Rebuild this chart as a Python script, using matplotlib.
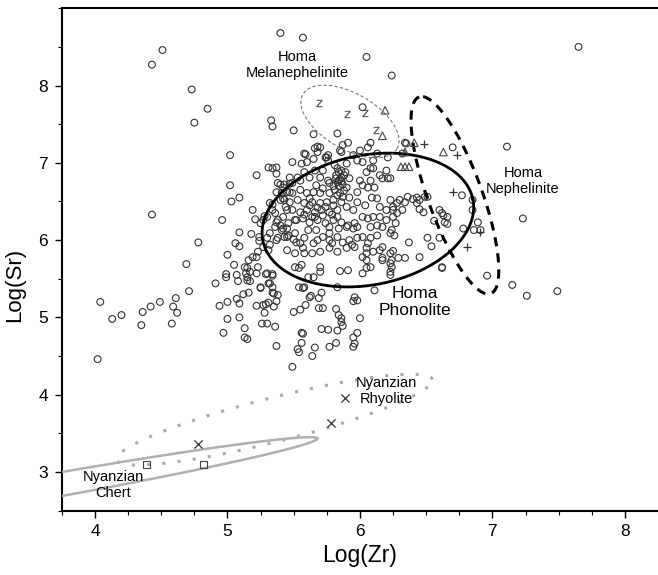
import numpy as np
import matplotlib
matplotlib.use("Agg")
import matplotlib.pyplot as plt

plt.rcParams['font.family'] = ['Liberation Sans', 'DejaVu Sans']

# Homa phonolite samples, (Log Zr, Log Sr)
upper_pts = [
    (5.40, 8.68), (5.57, 8.62), (4.51, 8.46), (4.43, 8.27), (4.73, 7.95), (4.85, 7.70),
    (4.75, 7.52), (5.33, 7.55), (5.34, 7.47), (5.50, 7.42), (5.65, 7.37), (6.05, 8.37),
    (6.24, 8.13), (7.65, 8.50), (6.02, 7.72), (5.83, 7.38), (7.11, 7.21), (7.23, 6.28),
    (4.43, 6.33),
]
left_pts = [
    (5.02, 7.10), (5.22, 6.84), (5.02, 6.71), (5.09, 6.55), (5.03, 6.50), (4.96, 6.26),
    (5.19, 6.39), (5.09, 6.10), (4.78, 5.97), (5.06, 5.96), (5.09, 5.92), (5.00, 5.81),
    (4.69, 5.69), (5.05, 5.68), (4.99, 5.56), (4.91, 5.44), (5.31, 6.94), (5.37, 6.86),
    (5.49, 7.01), (5.59, 7.11), (5.66, 7.19), (5.68, 7.21), (5.56, 6.99), (5.60, 7.01),
    (5.65, 7.05), (5.74, 7.07), (5.76, 7.10), (5.43, 6.72), (5.47, 6.73), (5.49, 6.74),
    (5.55, 6.77), (5.41, 6.61), (5.43, 6.52), (5.44, 6.43), (5.47, 6.62), (5.34, 6.46),
    (5.36, 6.35), (5.30, 6.30), (5.38, 6.26), (5.27, 6.26), (5.36, 6.17), (5.41, 6.13),
    (5.32, 6.09), (5.30, 6.03), (5.45, 6.04), (5.50, 6.01), (5.37, 6.00), (5.24, 6.04),
    (5.27, 5.91), (5.23, 5.85), (5.31, 5.87), (5.32, 5.94), (5.16, 5.74), (5.22, 5.78),
    (5.13, 5.65), (5.17, 5.59), (5.07, 5.55), (5.15, 5.52), (5.23, 5.65), (5.30, 5.57),
    (5.34, 5.54), (5.51, 5.65), (5.56, 5.68), (5.65, 5.52), (5.70, 5.59),
]
lower_left_pts = [
    (4.04, 5.20), (4.13, 4.98), (4.20, 5.03), (4.35, 4.90), (4.36, 5.07), (4.42, 5.14),
    (4.49, 5.20), (4.02, 4.46), (4.58, 4.92), (4.59, 5.14), (4.61, 5.25), (4.62, 5.06),
    (4.71, 5.34), (4.94, 5.15), (5.00, 5.20), (5.00, 4.98), (4.97, 4.80), (5.07, 5.24),
    (5.09, 5.18), (5.09, 5.00), (5.12, 5.30), (5.16, 5.32), (5.13, 4.86), (5.13, 4.74),
    (5.15, 4.72), (5.22, 5.15), (5.25, 5.39), (5.27, 5.16), (5.29, 5.17), (5.28, 5.06),
    (5.26, 4.92), (5.30, 4.92), (5.32, 5.44), (5.34, 5.39), (5.34, 5.32), (5.31, 5.19),
    (5.35, 5.14), (5.37, 5.21), (5.38, 5.29), (5.36, 4.88), (5.37, 4.63), (5.49, 4.36),
    (5.50, 5.07), (5.55, 5.10), (5.59, 5.16), (5.62, 5.26), (5.71, 5.32), (5.69, 5.12),
    (5.72, 5.12), (5.56, 4.80), (5.53, 4.59), (5.54, 4.55), (5.56, 4.67), (5.66, 4.61),
    (5.64, 4.50), (5.71, 4.85), (5.76, 4.84), (5.54, 5.39), (5.58, 5.39), (5.18, 6.08),
    (4.99, 5.52), (5.08, 5.47), (5.14, 5.57), (5.15, 5.64), (5.15, 5.48), (5.17, 5.47),
    (5.22, 5.57), (5.19, 5.78), (5.24, 5.99), (5.29, 5.56), (5.34, 5.56), (5.31, 5.44),
    (5.25, 5.38), (5.35, 5.31),
]
lower_mid_pts = [
    (5.54, 5.64), (5.61, 5.52), (5.85, 5.60), (5.91, 5.61), (6.02, 5.57), (6.05, 5.64),
    (5.83, 5.39), (5.57, 5.38), (6.11, 5.35), (5.63, 5.28), (5.69, 5.25), (5.96, 5.26),
    (5.95, 5.21), (5.98, 5.22), (5.82, 5.11), (5.84, 5.03), (5.86, 4.99), (5.87, 4.89),
    (6.00, 4.99), (5.83, 4.83), (5.57, 4.79), (5.98, 4.80), (5.95, 4.74), (5.96, 4.66),
    (5.95, 4.62), (5.77, 4.62), (5.86, 4.94), (5.82, 4.67), (7.15, 5.42), (7.26, 5.28),
    (7.49, 5.34), (5.70, 5.65),
]
right_pts = [
    (6.35, 7.25), (6.96, 5.54), (6.77, 6.58), (6.51, 6.56), (6.37, 5.97), (6.45, 6.52),
    (6.43, 6.48), (6.48, 6.36), (6.36, 6.56), (6.62, 6.35), (6.64, 6.23), (6.66, 6.30),
    (6.85, 6.52), (6.85, 6.39), (6.89, 6.23), (6.78, 6.15), (6.86, 6.13), (6.91, 6.13),
    (6.51, 6.03), (6.60, 6.03), (6.45, 5.78), (6.62, 5.65), (6.23, 5.55), (6.23, 5.70),
    (6.17, 5.77), (6.29, 5.77), (6.34, 5.77), (6.70, 7.20), (6.34, 7.26), (6.28, 6.48),
    (6.34, 6.49), (6.25, 6.43), (6.32, 6.39), (6.45, 6.40), (6.28, 6.35), (6.60, 6.39),
    (6.63, 6.32), (6.56, 6.25), (6.66, 6.21), (6.27, 6.22), (6.24, 6.13), (6.26, 6.06),
    (6.54, 5.92), (6.25, 5.86), (6.24, 5.74), (6.62, 5.64), (6.24, 5.65), (6.43, 6.55),
    (6.49, 6.56), (6.40, 6.53),
]
core_pts = [
    (5.91, 7.26), (5.87, 7.23), (5.85, 7.16), (6.08, 7.26), (6.06, 7.20), (6.00, 7.16),
    (5.95, 7.10), (6.13, 7.12), (6.21, 7.07), (5.68, 7.14), (5.58, 7.12), (5.75, 7.07),
    (5.76, 7.03), (5.81, 6.97), (5.90, 6.99), (5.84, 6.88), (5.89, 6.88), (5.86, 6.81),
    (5.84, 6.77), (5.92, 6.80), (6.00, 6.77), (6.08, 6.93), (6.10, 6.93), (6.20, 6.90),
    (6.15, 6.84), (6.17, 6.80), (6.21, 6.80), (6.02, 7.01), (5.98, 7.03), (6.06, 6.68),
    (6.11, 6.68), (6.09, 6.55), (6.13, 6.54), (6.15, 6.43), (6.20, 6.39), (6.23, 6.52),
    (6.25, 6.39), (6.04, 6.45), (5.98, 6.49), (5.95, 6.39), (6.02, 6.30), (6.06, 6.28),
    (6.15, 6.30), (6.20, 6.26), (5.90, 6.68), (5.85, 6.61), (5.81, 6.65), (5.77, 6.61),
    (5.72, 6.67), (5.70, 6.61), (5.65, 6.62), (5.60, 6.61), (5.55, 6.65), (5.49, 6.61),
    (5.45, 6.62), (5.42, 6.54), (5.47, 6.49), (5.53, 6.52), (5.58, 6.48), (5.64, 6.49),
    (5.70, 6.48), (5.75, 6.49), (5.80, 6.45), (5.86, 6.49), (5.90, 6.43), (5.83, 6.39),
    (5.77, 6.36), (5.71, 6.39), (5.66, 6.36), (5.60, 6.39), (5.55, 6.36), (5.49, 6.39),
    (5.45, 6.39), (5.51, 6.26), (5.57, 6.28), (5.62, 6.23), (5.68, 6.26), (5.74, 6.22),
    (5.80, 6.26), (5.86, 6.23), (5.91, 6.19), (5.96, 6.22), (6.13, 6.19), (6.17, 6.17),
    (5.53, 6.81), (5.62, 6.81), (5.70, 6.81), (5.76, 6.77), (5.72, 6.90), (5.66, 6.90),
    (5.58, 6.88), (5.47, 6.81), (5.38, 6.74), (5.42, 6.68), (5.37, 6.62), (5.40, 6.52),
    (5.32, 6.48), (5.42, 6.30), (5.46, 6.22), (5.42, 6.15), (5.38, 6.03), (5.46, 6.06),
    (5.51, 6.09), (5.52, 5.97), (5.58, 6.03), (5.65, 5.96), (5.68, 6.00), (5.72, 6.04),
    (5.77, 6.00), (5.83, 6.04), (5.87, 5.97), (5.92, 6.00), (5.98, 6.03), (6.02, 6.04),
    (6.08, 6.03), (6.13, 6.06), (5.57, 5.90), (5.64, 5.83), (5.70, 5.85), (5.77, 5.90),
    (5.83, 5.85), (5.90, 5.90), (5.96, 5.91), (6.05, 5.90), (6.10, 5.85), (6.02, 5.78),
    (6.08, 5.65), (6.17, 5.74), (6.23, 5.83), (6.17, 5.91), (6.23, 6.09), (6.25, 6.30),
    (6.30, 6.52), (6.23, 6.80), (6.08, 6.77), (6.02, 6.71), (5.98, 6.62), (5.92, 6.55),
    (6.05, 6.88), (6.10, 7.03), (6.32, 7.12), (5.67, 6.71), (5.77, 6.74), (5.62, 6.54),
    (5.52, 6.26), (5.66, 6.30), (5.77, 6.17), (5.90, 6.17), (5.98, 6.17), (6.10, 6.30),
    (6.08, 6.17), (5.61, 6.13), (5.67, 6.13), (5.83, 6.30), (5.70, 7.20), (5.86, 7.14),
    (5.34, 6.93), (5.37, 6.94), (5.21, 6.27), (5.25, 6.22), (5.28, 6.31), (5.34, 6.39),
    (5.37, 6.23), (5.40, 6.72), (5.40, 6.19), (5.82, 6.84), (5.85, 6.79), (5.83, 6.75),
    (5.87, 6.72), (5.80, 6.70), (5.45, 6.15), (5.43, 6.04), (5.55, 5.96), (5.77, 6.09),
    (5.84, 6.15), (5.95, 6.15), (5.79, 5.96), (5.94, 5.94), (6.06, 5.96), (6.05, 5.83),
    (6.05, 5.74), (6.15, 5.87), (6.23, 5.59), (5.58, 5.83), (5.51, 5.83), (5.45, 5.87),
    (5.83, 6.93), (5.86, 6.90), (5.88, 6.84), (5.82, 6.80), (5.86, 6.76), (5.84, 6.70),
    (5.88, 6.64), (5.83, 6.58), (5.87, 6.56), (5.80, 6.52), (5.62, 6.45), (5.68, 6.42),
    (5.74, 6.43), (5.58, 6.33), (5.64, 6.30), (5.72, 6.32), (5.79, 6.33),
]

# other rock groups
mel_zr = [5.69, 5.90, 6.04, 6.12]
mel_sr = [7.78, 7.63, 7.64, 7.43]
tri_zr = [6.19, 6.17, 6.41, 6.34, 6.63, 6.31, 6.34, 6.37]
tri_sr = [7.68, 7.35, 7.26, 7.14, 7.14, 6.95, 6.95, 6.95]
plus_zr = [6.48, 6.73, 6.70, 6.81, 6.91]
plus_sr = [7.24, 7.10, 6.62, 5.91, 6.10]
rhy_zr = [4.78, 5.89, 5.78]
rhy_sr = [3.36, 3.96, 3.63]
chert_zr = [4.39, 4.82]
chert_sr = [3.10, 3.10]

# field outlines: centre (Zr, Sr), semi-axes in Zr units, tilt in degrees
fields = {
    'phonolite': (6.06, 6.26, 0.808, 0.49, 11),
    'nephelinite': (6.717, 6.58, 0.79, 0.204, 110),
    'melanephelinite': (5.925, 7.535, 0.41, 0.21, -30),
    'rhyolite': (5.355, 3.677, 1.23, 0.166, 14.25),
    'chert': (3.454, 2.754, 2.26, 0.09, 10.1),
}

labels = [
    ('Homa\nMelanephelinite', 5.53, 8.27, 10.5),
    ('Homa\nNephelinite', 7.23, 6.77, 10.5),
    ('Homa\nPhonolite', 6.415, 5.20, 12.5),
    ('Nyanzian\nRhyolite', 6.20, 4.05, 10.5),
    ('Nyanzian\nChert', 4.14, 2.83, 10.5),
]

xlim = (3.75, 8.25)
ylim = (2.5, 9.0)

fig = plt.figure(figsize=(6.58, 5.75), dpi=100)
ax = fig.add_axes([0.094, 0.112, 0.906, 0.8736])
ax.set_xlim(*xlim)
ax.set_ylim(*ylim)

# ratio of screen length of one Sr unit to one Zr unit
pos = ax.get_position()
w_px = pos.width * 6.58
h_px = pos.height * 5.75
r = (h_px / (ylim[1] - ylim[0])) / (w_px / (xlim[1] - xlim[0]))


def outline(cx, cy, a, b, ang):
    t = np.linspace(0, 2 * np.pi, 400)
    th = np.radians(ang)
    u = a * np.cos(t)
    v = b * np.sin(t)
    du = u * np.cos(th) - v * np.sin(th)
    dv = u * np.sin(th) + v * np.cos(th)
    return cx + du, cy + dv / r


styles = {
    'phonolite': dict(color='black', lw=2.0, ls='-'),
    'nephelinite': dict(color='black', lw=2.2, ls=(0, (3, 2.3))),
    'melanephelinite': dict(color='#777777', lw=0.8, ls=(0, (3, 2))),
    'rhyolite': dict(color='#aaaaaa', lw=2.2, ls=(0, (1, 4))),
    'chert': dict(color='#b0b0b0', lw=1.8, ls='-'),
}
for name, p in fields.items():
    xs, ys = outline(*p)
    ax.plot(xs, ys, **styles[name], zorder=3)

pts = np.array(upper_pts + left_pts + lower_left_pts + lower_mid_pts + right_pts + core_pts)
ax.scatter(pts[:, 0], pts[:, 1], s=24, facecolors='none', edgecolors='#333333',
           linewidths=0.8, zorder=2)

ax.scatter(mel_zr, mel_sr, s=28, marker=r'$\mathsf{z}$', color='#444444', linewidths=0, zorder=4)
ax.scatter(tri_zr, tri_sr, s=30, marker='^', facecolors='none', edgecolors='#444444',
           linewidths=0.8, zorder=4)
ax.scatter(plus_zr, plus_sr, s=40, marker='+', color='#333333', linewidths=0.9, zorder=4)
ax.scatter(rhy_zr, rhy_sr, s=35, marker='x', color='#333333', linewidths=0.9, zorder=4)
ax.scatter(chert_zr, chert_sr, s=28, marker='s', facecolors='none', edgecolors='#444444',
           linewidths=0.8, zorder=4)

for txt, x, y, fs in labels:
    ax.text(x, y, txt, ha='center', va='center', multialignment='center', fontsize=fs, zorder=5)

ax.set_xticks([4, 5, 6, 7, 8])
ax.set_xticks(np.arange(3.75, 8.26, 0.25), minor=True)
ax.set_yticks([3, 4, 5, 6, 7, 8])
ax.set_yticks(np.arange(2.5, 9.01, 0.5), minor=True)
ax.tick_params(which='major', direction='out', length=5, width=1.0, labelsize=12.5, pad=5)
ax.tick_params(which='minor', direction='out', length=3, width=0.8)
for s in ['left', 'bottom', 'top']:
    ax.spines[s].set_linewidth(1.5)
ax.spines['right'].set_visible(False)

ax.set_xlabel('Log(Zr)', fontsize=16.5, labelpad=3)
ax.set_ylabel('Log(Sr)', fontsize=16)
ax.yaxis.set_label_coords(-0.062, 0.45)

fig.savefig('out.png', dpi=100)
